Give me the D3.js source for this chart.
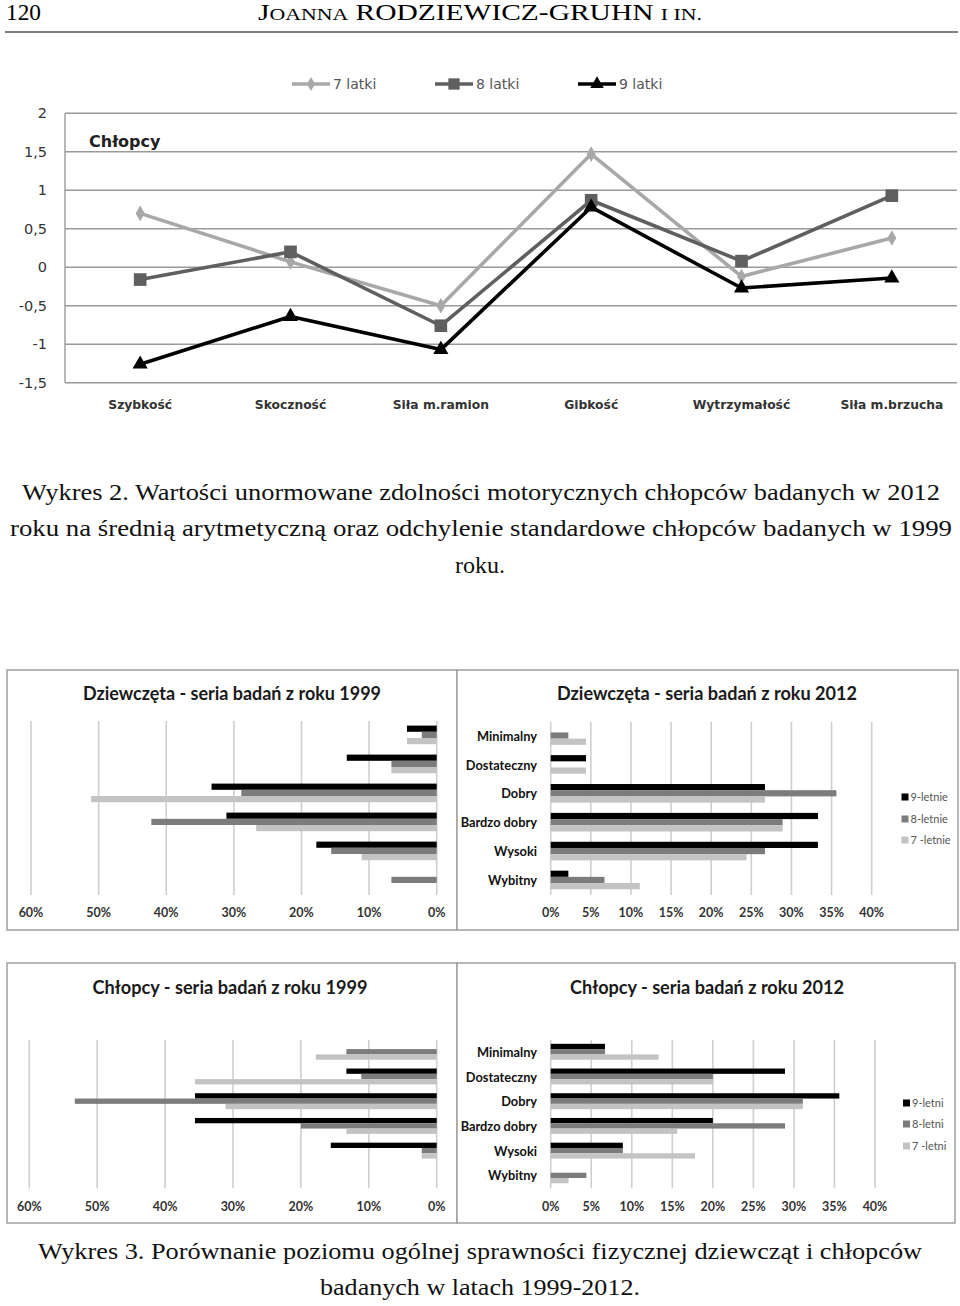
<!DOCTYPE html>
<html><head><meta charset="utf-8">
<script src="https://cdn.jsdelivr.net/npm/d3@7"></script>
<style>html,body{margin:0;padding:0;background:#fff;} svg{display:block;}</style>
</head><body>
<script>
// ---------- DATA ----------
const lineCategories = ["Szybkość","Skoczność","Siła m.ramion","Gibkość","Wytrzymałość","Siła m.brzucha"];
const boys7 = [0.70, 0.07, -0.50, 1.47, -0.12, 0.38];
const boys8 = [-0.16, 0.20, -0.76, 0.87, 0.08, 0.93];
const boys9 = [-1.26, -0.64, -1.07, 0.78, -0.27, -0.14];
const lineTicks = [2, 1.5, 1, 0.5, 0, -0.5, -1, -1.5];
const lineSeriesNames = ["7 latki","8 latki","9 latki"];

const levels = ["Minimalny","Dostateczny","Dobry","Bardzo dobry","Wysoki","Wybitny"];
const girls1999_9 = [4.4, 13.3, 33.3, 31.1, 17.8, 0];
const girls1999_8 = [2.2, 6.7, 28.9, 42.2, 15.6, 6.7];
const girls1999_7 = [4.4, 6.7, 51.1, 26.7, 11.1, 0];
const girls2012_9 = [0, 4.4, 26.7, 33.3, 33.3, 2.2];
const girls2012_8 = [2.2, 0, 35.6, 28.9, 26.7, 6.7];
const girls2012_7 = [4.4, 4.4, 26.7, 28.9, 24.4, 11.1];
const boys1999_9 = [0, 13.3, 35.6, 35.6, 15.6, 0];
const boys1999_8 = [13.3, 11.1, 53.3, 20.0, 2.2, 0];
const boys1999_7 = [17.8, 35.6, 31.1, 13.3, 2.2, 0];
const boys2012_9 = [6.7, 28.9, 35.6, 20.0, 8.9, 0];
const boys2012_8 = [6.7, 20.0, 31.1, 28.9, 8.9, 4.4];
const boys2012_7 = [13.3, 20.0, 31.1, 15.6, 17.8, 2.2];
const ticks1999 = [0, 10, 20, 30, 40, 50, 60];
const ticks2012 = [0, 5, 10, 15, 20, 25, 30, 35, 40];
const girlsLegend = ["9-letnie","8-letnie","7 -letnie"];
const boysLegend = ["9-letni","8-letni","7 -letni"];

// ---------- SETUP ----------
const svg = d3.select("body").append("svg").attr("width",960).attr("height",1306);
svg.append("rect").attr("width",960).attr("height",1306).attr("fill","#fff");
const serif = "'Liberation Serif','DejaVu Serif',serif";

// header
svg.append("text").attr("x",6).attr("y",20).attr("font-family",serif).attr("font-size",23)
  .attr("textLength",35).attr("lengthAdjust","spacingAndGlyphs").text("120");
const hdr = svg.append("text").attr("x",258).attr("y",20).attr("font-family",serif)
  .attr("textLength",444).attr("lengthAdjust","spacingAndGlyphs");
hdr.append("tspan").attr("font-size",23).text("J");
hdr.append("tspan").attr("font-size",17).text("OANNA");
hdr.append("tspan").attr("font-size",23).text(" RODZIEWICZ-GRUHN ");
hdr.append("tspan").attr("font-size",17).text("I IN.");
svg.append("line").attr("x1",5).attr("x2",958).attr("y1",32).attr("y2",32).attr("stroke","#000").attr("stroke-width",1.2);

// ---------- LINE CHART ----------
const xL = d3.scalePoint().domain(lineCategories).range([65, 967]).padding(0.5);
const yL = d3.scaleLinear().domain([-1.5, 2]).range([382.7, 113.3]);
const lc = svg.append("g");
lc.selectAll("line.grid").data(lineTicks).join("line")
  .attr("x1",65).attr("x2",957).attr("y1",d=>yL(d)).attr("y2",d=>yL(d))
  .attr("stroke","#9a9a9a").attr("stroke-width",1.4);
lc.append("line").attr("x1",65).attr("x2",65).attr("y1",yL(2)).attr("y2",yL(-1.5))
  .attr("stroke","#9a9a9a").attr("stroke-width",1.4);
const fmt = d => String(d).replace(".", ",");
lc.selectAll("text.tick").data(lineTicks).join("text")
  .attr("x",47).attr("y",d=>yL(d)).attr("dy","0.35em").attr("text-anchor","end")
  .attr("font-family","'DejaVu Sans',sans-serif").attr("font-size",14.5).attr("fill","#333")
  .text(fmt);
lc.selectAll("text.cat").data(lineCategories).join("text")
  .attr("x",d=>xL(d)).attr("y",409).attr("text-anchor","middle")
  .attr("font-family","'DejaVu Sans',sans-serif").attr("font-weight","bold").attr("font-size",12.3)
  .attr("fill","#333").text(d=>d);
lc.append("text").attr("x",89).attr("y",147).attr("font-family","'DejaVu Sans',sans-serif")
  .attr("font-weight","bold").attr("font-size",16).attr("fill","#222").text("Chłopcy");

const lineSeries = [
  {name:lineSeriesNames[0], vals:boys7, color:"#a8a8a8", sym:d3.symbolDiamond, size:70},
  {name:lineSeriesNames[1], vals:boys8, color:"#5f5f5f", sym:d3.symbolSquare, size:160},
  {name:lineSeriesNames[2], vals:boys9, color:"#000000", sym:d3.symbolTriangle, size:100}
];
const lineGen = d3.line().x((d,i)=>xL(lineCategories[i])).y(d=>yL(d));
lineSeries.forEach(s=>{
  lc.append("path").attr("d",lineGen(s.vals)).attr("fill","none").attr("stroke",s.color)
    .attr("stroke-width",3.6).attr("stroke-linejoin","round");
  lc.selectAll(null).data(s.vals).join("path")
    .attr("transform",(d,i)=>`translate(${xL(lineCategories[i])},${yL(d)})`)
    .attr("d",d3.symbol().type(s.sym).size(s.size)).attr("fill",s.color);
});
// legend
const legX = [292, 435, 578];
lineSeries.forEach((s,i)=>{
  const g = lc.append("g").attr("transform",`translate(${legX[i]},84)`);
  g.append("line").attr("x1",0).attr("x2",38).attr("stroke",s.color).attr("stroke-width",3.6);
  g.append("path").attr("transform","translate(19,0)").attr("d",d3.symbol().type(s.sym).size(s.size*0.8)).attr("fill",s.color);
  g.append("text").attr("x",41).attr("dy","0.35em").attr("font-family","'DejaVu Sans',sans-serif")
    .attr("font-size",14).attr("fill","#555").text(s.name);
});

// caption 2
const cap = (txt,x,y,len,anchor) => {
  const t = svg.append("text").attr("x",x).attr("y",y).attr("font-family",serif).attr("font-size",23.5)
    .attr("text-anchor",anchor||"start").attr("fill","#111").text(txt);
  if (len) t.attr("textLength",len).attr("lengthAdjust","spacingAndGlyphs");
};
cap("Wykres 2. Wartości unormowane zdolności motorycznych chłopców badanych w 2012", 22, 500, 918);
cap("roku na średnią arytmetyczną oraz odchylenie standardowe chłopców badanych w 1999", 10, 536, 942);
cap("roku.", 480, 573, 50, "middle");

// ---------- BAR CHARTS ----------
const barColors = ["#000000","#7c7c7c","#c3c3c3"];
const fontSans = "Lato,'Open Sans',sans-serif";
function panel(cfg){
  const g = svg.append("g");
  g.append("rect").attr("x",cfg.box[0]).attr("y",cfg.box[1]).attr("width",cfg.box[2]-cfg.box[0])
    .attr("height",cfg.box[3]-cfg.box[1]).attr("fill","#fff").attr("stroke","#a0a0a0").attr("stroke-width",1.5);
  g.append("text").attr("x",cfg.titleX).attr("y",cfg.titleY).attr("text-anchor","middle")
    .attr("font-family",fontSans).attr("font-weight","bold").attr("font-size",19.5).attr("fill","#1a1a1a")
    .attr("textLength",cfg.titleLen).attr("lengthAdjust","spacingAndGlyphs").text(cfg.title);
  const x = d3.scaleLinear().domain([0, cfg.max]).range(cfg.xRange);
  const y = d3.scaleBand().domain(levels).range(cfg.yRange);
  g.selectAll("line.grid").data(cfg.ticks).join("line")
    .attr("x1",d=>x(d)).attr("x2",d=>x(d)).attr("y1",cfg.yRange[0]).attr("y2",cfg.yRange[1])
    .attr("stroke","#cfcfcf").attr("stroke-width",1.6);
  g.selectAll("text.tick").data(cfg.ticks).join("text")
    .attr("x",d=>x(d)).attr("y",cfg.tickY).attr("text-anchor","middle")
    .attr("font-family",fontSans).attr("font-weight","bold").attr("font-size",12.5).attr("fill","#333")
    .text(d=>d+"%");
  const bh = cfg.bh;
  cfg.series.forEach((vals,k)=>{
    g.selectAll(null).data(vals).join("rect")
      .attr("x",d=>Math.min(x(0),x(d))).attr("width",d=>Math.abs(x(d)-x(0)))
      .attr("y",(d,i)=>y(levels[i]) + (y.bandwidth()-3*bh)/2 - 0.6 + k*bh).attr("height",bh)
      .attr("fill",barColors[k]);
  });
  if (cfg.labels){
    g.selectAll("text.cat").data(levels).join("text")
      .attr("x",537).attr("y",d=>y(d)+y.bandwidth()/2).attr("dy","0.35em").attr("text-anchor","end")
      .attr("font-family",fontSans).attr("font-weight","bold").attr("font-size",12.8).attr("fill","#111")
      .text(d=>d);
  }
  if (cfg.legend){
    cfg.legend.forEach((name,k)=>{
      g.append("rect").attr("x",cfg.legX).attr("y",cfg.legY[k]-3.5).attr("width",7).attr("height",7).attr("fill",barColors[k]);
      g.append("text").attr("x",cfg.legX+9).attr("y",cfg.legY[k]).attr("dy","0.35em")
        .attr("font-family",fontSans).attr("font-size",11).attr("fill","#555").text(name);
    });
  }
}
panel({box:[7,670,457,930], title:"Dziewczęta - seria badań z roku 1999", titleX:232, titleY:700, titleLen:298,
  max:60, xRange:[436.7,31], ticks:ticks1999, yRange:[721,895], tickY:917, bh:6.2,
  series:[girls1999_9, girls1999_8, girls1999_7]});
panel({box:[457,670,958,930], title:"Dziewczęta - seria badań z roku 2012", titleX:707, titleY:700, titleLen:300,
  max:40, xRange:[550.7,871.7], ticks:ticks2012, yRange:[721.7,895], tickY:917, bh:6.2,
  series:[girls2012_9, girls2012_8, girls2012_7], labels:true,
  legend:girlsLegend, legX:901.5, legY:[797,819,840]});
panel({box:[7,963,457,1223], title:"Chłopcy - seria badań z roku 1999", titleX:230, titleY:994, titleLen:275,
  max:60, xRange:[436.7,29.3], ticks:ticks1999, yRange:[1040,1188.3], tickY:1211, bh:5.3,
  series:[boys1999_9, boys1999_8, boys1999_7]});
panel({box:[457,963,955,1223], title:"Chłopcy - seria badań z roku 2012", titleX:707, titleY:994, titleLen:274,
  max:40, xRange:[550.7,875], ticks:ticks2012, yRange:[1040,1188.3], tickY:1211, bh:5.3,
  series:[boys2012_9, boys2012_8, boys2012_7], labels:true,
  legend:boysLegend, legX:903, legY:[1103,1124,1146]});

// caption 3
cap("Wykres 3. Porównanie poziomu ogólnej sprawności fizycznej dziewcząt i chłopców", 38, 1259, 884);
cap("badanych w latach 1999-2012.", 480, 1295, 320, "middle");
</script>
</body></html>
